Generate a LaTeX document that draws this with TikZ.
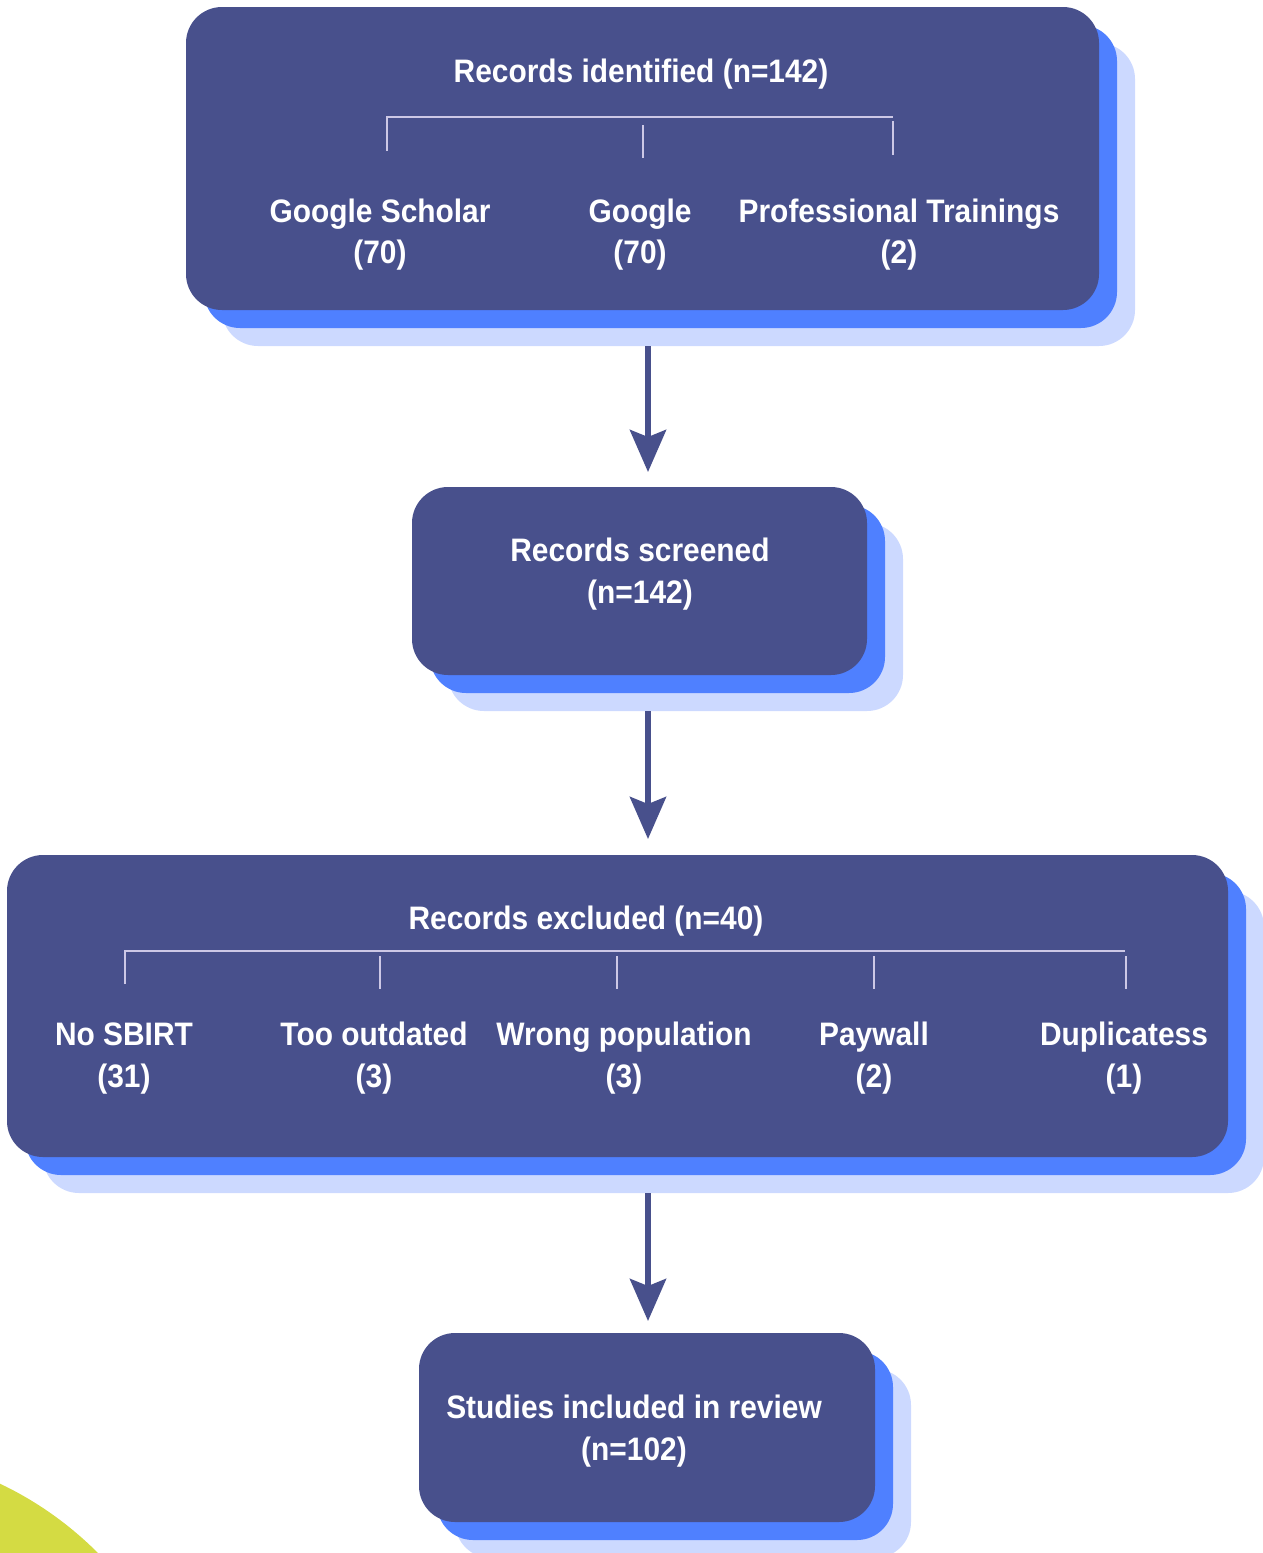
\documentclass[tikz,border=0pt]{standalone}
\usepackage{fontspec}
\setmainfont{Liberation Sans}[FakeStretch=0.92]
\usetikzlibrary{arrows.meta}
\definecolor{navy}{RGB}{72,80,140}
\definecolor{midblue}{RGB}{79,128,255}
\definecolor{paleblue}{RGB}{204,217,255}
\definecolor{lime}{RGB}{212,219,67}
\definecolor{bracket}{RGB}{205,200,230}
\tikzset{
  layer/.style={rectangle, rounded corners=36pt, inner sep=0pt, outer sep=0pt, draw=none},
  mainbox/.style={layer, fill=navy},
  bluebox/.style={layer, fill=midblue},
  palebox/.style={layer, fill=paleblue},
  lbl/.style={anchor=base, inner sep=0pt, text=white, font=\fontsize{32.5pt}{40pt}\selectfont\bfseries},
  brk/.style={draw=bracket, line width=2pt},
  flow/.style={draw=navy, line width=6pt, -{Stealth[length=42pt,width=36pt,inset=7pt]}}
}
\begin{document}
\begin{tikzpicture}[x=1pt,y=-1pt]
\useasboundingbox (0,0) rectangle (1263,1553);
% decorative circle
\fill[lime] (-150,1800) circle[radius=350pt];

% Box 1
\node[palebox, minimum width=913pt, minimum height=303pt] (b1p) at (678.5,194.5) {};
\node[bluebox, minimum width=913pt, minimum height=303pt] (b1b) at (660.5,176.5) {};
\node[mainbox, minimum width=913pt, minimum height=303pt] (b1) at (642.5,158.5) {};
\node[lbl] (t1) at (641,82) {Records identified (n=142)};
\coordinate (k1a) at (387,117);
\coordinate (k1c) at (893,117);
\draw[brk] (387,151) -- (k1a) -- (k1c);
\draw[brk] (643,125) -- (643,158);
\draw[brk] (893,121) -- (893,155);
\node[lbl] (s1) at (380,222) {Google Scholar};
\node[lbl] (s1n) at (380,263) {(70)};
\node[lbl] (s2) at (640,222) {Google};
\node[lbl] (s2n) at (640,263) {(70)};
\node[lbl] (s3) at (899,222) {Professional Trainings};
\node[lbl] (s3n) at (899,263) {(2)};

% Box 2
\node[palebox, minimum width=455pt, minimum height=188pt] (b2p) at (675.5,617) {};
\node[bluebox, minimum width=455pt, minimum height=188pt] (b2b) at (657.5,599) {};
\node[mainbox, minimum width=455pt, minimum height=188pt] (b2) at (639.5,581) {};
\node[lbl] (t2) at (640,561) {Records screened};
\node[lbl] (t2n) at (640,603) {(n=142)};

% Box 3
\node[palebox, minimum width=1221pt, minimum height=302pt] (b3p) at (653.5,1042) {};
\node[bluebox, minimum width=1221pt, minimum height=302pt] (b3b) at (635.5,1024) {};
\node[mainbox, minimum width=1221pt, minimum height=302pt] (b3) at (617.5,1006) {};
\node[lbl] (t3) at (586,929) {Records excluded (n=40)};
\draw[brk] (125,984) -- (125,951) -- (1125,951);
\draw[brk] (380,956) -- (380,989);
\draw[brk] (617,956) -- (617,989);
\draw[brk] (874,956) -- (874,989);
\draw[brk] (1126,956) -- (1126,989);
\node[lbl] (e1) at (124,1045) {No SBIRT};
\node[lbl] (e1n) at (124,1087) {(31)};
\node[lbl] (e2) at (374,1045) {Too outdated};
\node[lbl] (e2n) at (374,1087) {(3)};
\node[lbl] (e3) at (624,1045) {Wrong population};
\node[lbl] (e3n) at (624,1087) {(3)};
\node[lbl] (e4) at (874,1045) {Paywall};
\node[lbl] (e4n) at (874,1087) {(2)};
\node[lbl] (e5) at (1124,1045) {Duplicatess};
\node[lbl] (e5n) at (1124,1087) {(1)};

% Box 4
\node[palebox, minimum width=456pt, minimum height=189pt] (b4p) at (683,1463.5) {};
\node[bluebox, minimum width=456pt, minimum height=189pt] (b4b) at (665,1445.5) {};
\node[mainbox, minimum width=456pt, minimum height=189pt] (b4) at (647,1427.5) {};
\node[lbl] (t4) at (634,1418) {Studies included in review};
\node[lbl] (t4n) at (634,1460) {(n=102)};

% Connectors
\coordinate (ax) at (648,0);
\draw[flow, shorten >=15pt] (b1p.south -| ax) -- (b2.north -| ax);
\draw[flow, shorten >=16pt] (b2p.south -| ax) -- (b3.north -| ax);
\draw[flow, shorten >=12pt] (b3p.south -| ax) -- (b4.north -| ax);
\end{tikzpicture}
\end{document}
